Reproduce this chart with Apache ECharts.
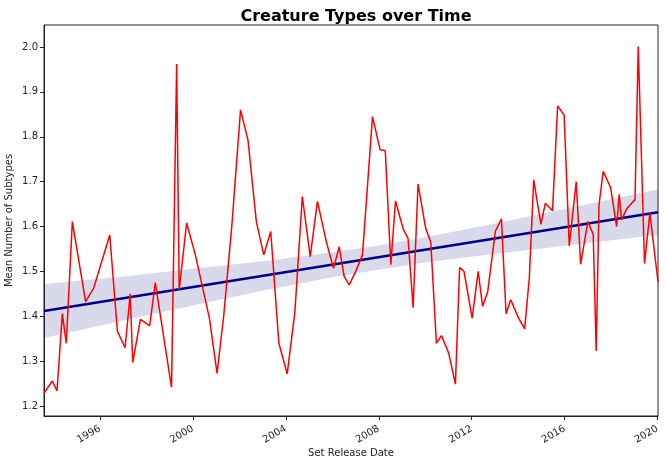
<!DOCTYPE html>
<html>
<head>
<meta charset="utf-8">
<script src="https://cdn.jsdelivr.net/npm/echarts@6/dist/echarts.min.js"></script>
<style>html,body{margin:0;padding:0;background:#fff;}#c{width:665px;height:466px;}</style>
</head>
<body>
<div id="c"></div>
<script>
// Release dates as decimal years, and the mean number of creature subtypes
var releaseYears = [
  1993.59, 1993.95, 1994.15, 1994.38, 1994.55, 1994.81, 1995.38, 1995.73, 1996.42, 1996.75,
  1997.08, 1997.30, 1997.41, 1997.74, 1998.14, 1998.38, 1999.08, 1999.30, 1999.41, 1999.73,
  2000.10, 2000.71, 2001.04, 2001.33, 2001.69, 2002.05, 2002.37, 2002.73, 2003.05, 2003.35,
  2003.70, 2004.06, 2004.39, 2004.71, 2005.05, 2005.36, 2005.74, 2006.05, 2006.30, 2006.51,
  2006.73, 2007.03, 2007.30, 2007.73, 2008.06, 2008.28, 2008.52, 2008.72, 2009.05, 2009.26,
  2009.48, 2009.69, 2010.02, 2010.24, 2010.48, 2010.70, 2011.01, 2011.30, 2011.48, 2011.67,
  2012.02, 2012.28, 2012.47, 2012.69, 2013.02, 2013.28, 2013.48, 2013.68, 2014.02, 2014.28,
  2014.48, 2014.67, 2014.98, 2015.17, 2015.48, 2015.70, 2015.98, 2016.20, 2016.50, 2016.69,
  2017.00, 2017.23, 2017.36, 2017.48, 2017.66, 2017.98, 2018.24, 2018.35, 2018.45, 2018.69,
  2019.03, 2019.17, 2019.44, 2019.67, 2020.02
];
var meanSubtypes = [
  1.229, 1.256, 1.234, 1.406, 1.340, 1.611, 1.433, 1.463, 1.581, 1.367,
  1.330, 1.450, 1.297, 1.393, 1.379, 1.475, 1.242, 1.962, 1.459, 1.608,
  1.538, 1.396, 1.273, 1.403, 1.611, 1.860, 1.793, 1.611, 1.537, 1.589,
  1.340, 1.272, 1.410, 1.667, 1.533, 1.656, 1.567, 1.507, 1.555, 1.489,
  1.470, 1.503, 1.537, 1.845, 1.771, 1.769, 1.515, 1.657, 1.595, 1.574,
  1.419, 1.695, 1.596, 1.565, 1.340, 1.357, 1.318, 1.249, 1.509, 1.500,
  1.396, 1.500, 1.422, 1.455, 1.590, 1.617, 1.406, 1.437, 1.396, 1.372,
  1.485, 1.704, 1.605, 1.652, 1.635, 1.869, 1.848, 1.557, 1.700, 1.516,
  1.611, 1.583, 1.323, 1.648, 1.723, 1.687, 1.600, 1.672, 1.615, 1.641,
  1.660, 2.001, 1.518, 1.630, 1.477
];
// Regression fit line
var fitYears = [1993.59, 2020.02];
var fitValues = [1.412, 1.632];
// Confidence band
var bandYears = [1993.59, 1997, 2000, 2003, 2006, 2008, 2010, 2013, 2016, 2020.02];
var bandLower = [1.352, 1.391, 1.424, 1.457, 1.487, 1.504, 1.520, 1.539, 1.557, 1.581];
var bandUpper = [1.472, 1.489, 1.506, 1.523, 1.543, 1.558, 1.576, 1.607, 1.639, 1.683];
// Tick labels
var xTickYears = [1996, 2000, 2004, 2008, 2012, 2016, 2020];
var yTickValues = [1.2, 1.3, 1.4, 1.5, 1.6, 1.7, 1.8, 1.9, 2.0];

var lineData = releaseYears.map(function (y, i) { return [y, meanSubtypes[i]]; });
var fitData = fitYears.map(function (y, i) { return [y, fitValues[i]]; });

var chart = echarts.init(document.getElementById('c'), null, {renderer: 'canvas'});
var fontFam = '"DejaVu Sans", sans-serif';
chart.setOption({
  animation: false,
  backgroundColor: '#fff',
  title: {
    text: 'Creature Types over Time',
    left: 351, top: 4, textAlign: 'center',
    textStyle: {fontFamily: fontFam, fontSize: 16, fontWeight: 'bold', color: '#000'}
  },
  grid: {left: 44, right: 7, top: 25, bottom: 50, containLabel: false, outerBoundsMode: 'none',
    show: true, borderColor: '#222', borderWidth: 1, backgroundColor: 'transparent'},
  xAxis: {
    type: 'value', min: 1993.59, max: 2020.02,
    name: 'Set Release Date', nameLocation: 'middle', nameGap: 32, nameMoveOverlap: false,
    nameTextStyle: {fontFamily: fontFam, fontSize: 10, color: '#222'},
    axisLine: {show: true, lineStyle: {color: '#222', width: 1}},
    axisTick: {show: true, length: 4, customValues: xTickYears, lineStyle: {color: '#222'}},
    axisLabel: {customValues: xTickYears, rotate: 30, margin: 12, fontFamily: fontFam, fontSize: 10, color: '#222',
      formatter: function (v) { return String(Math.round(v)); }},
    splitLine: {show: false}
  },
  yAxis: {
    type: 'value', min: 1.178, max: 2.049,
    name: 'Mean Number of Subtypes', nameLocation: 'middle', nameGap: 30, nameMoveOverlap: false,
    nameTextStyle: {fontFamily: fontFam, fontSize: 10, color: '#222'},
    axisLine: {show: true, lineStyle: {color: '#222', width: 1}},
    axisTick: {show: true, length: 4, customValues: yTickValues, lineStyle: {color: '#222'}},
    axisLabel: {customValues: yTickValues, margin: 6, fontFamily: fontFam, fontSize: 10, color: '#222',
      formatter: function (v) { return v.toFixed(1); }},
    splitLine: {show: false}
  },
  series: [
    {
      type: 'custom', name: 'band', z: 1, silent: true,
      data: [0],
      renderItem: function (params, api) {
        var pts = [];
        for (var i = 0; i < bandYears.length; i++) pts.push(api.coord([bandYears[i], bandUpper[i]]));
        for (var j = bandYears.length - 1; j >= 0; j--) pts.push(api.coord([bandYears[j], bandLower[j]]));
        return {type: 'polygon', shape: {points: pts}, style: {fill: 'rgba(0,0,128,0.15)', stroke: null}};
      },
      clip: true
    },
    {
      type: 'line', name: 'fit', data: fitData, z: 2, symbol: 'none',
      lineStyle: {color: '#000080', width: 2.5}
    },
    {
      type: 'line', name: 'mean', data: lineData, z: 3, symbol: 'none',
      lineStyle: {color: '#ff0000', width: 1.5}
    }
  ]
});
</script>
</body>
</html>
